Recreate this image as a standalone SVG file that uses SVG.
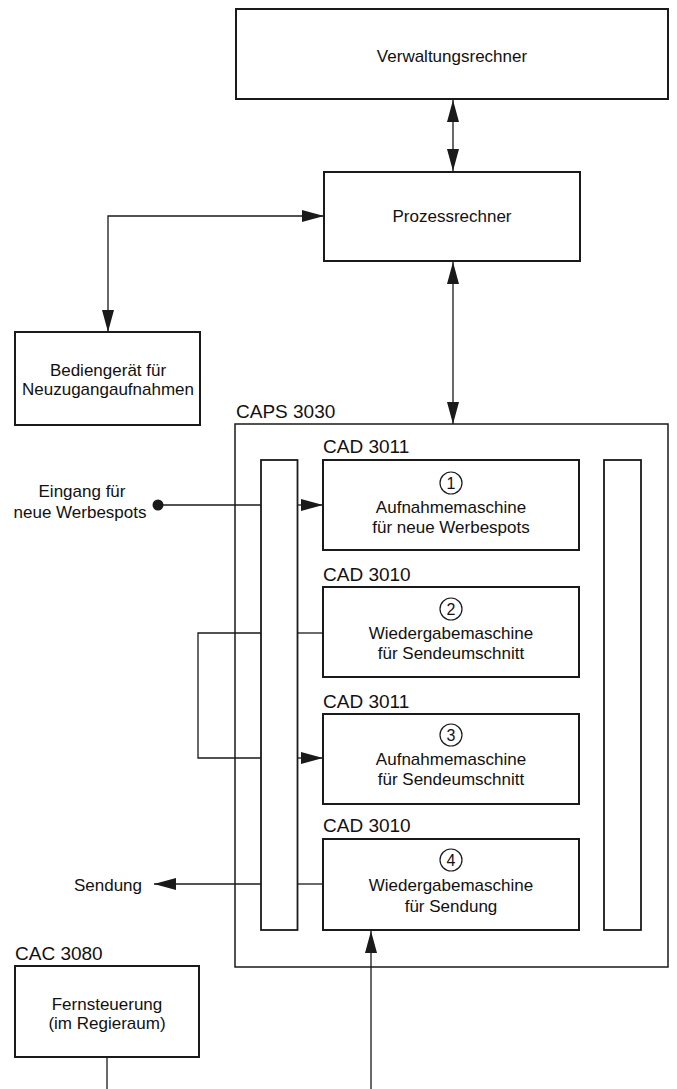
<svg xmlns="http://www.w3.org/2000/svg" width="677" height="1089" viewBox="0 0 677 1089">
<style>
.box{fill:#fff;stroke:#1a1a1a;stroke-width:2}
.bus{fill:#fff;stroke:#1a1a1a;stroke-width:1.8}
.outer{fill:none;stroke:#1a1a1a;stroke-width:1.5}
.ln{fill:none;stroke:#1a1a1a;stroke-width:1.3}
.t{font-family:"Liberation Sans",Arial,sans-serif;font-size:17px;fill:#111;text-anchor:middle}
.lab{font-family:"Liberation Sans",Arial,sans-serif;font-size:19px;fill:#111}
.num{font-family:"Liberation Sans",Arial,sans-serif;font-size:16px;fill:#111;text-anchor:middle}
.circ{fill:none;stroke:#1a1a1a;stroke-width:1.2}
</style>
<defs>
<marker id="ah" markerUnits="userSpaceOnUse" markerWidth="22" markerHeight="12" refX="22" refY="6" orient="auto-start-reverse">
<path d="M0,0 L22,6 L0,12 Z" fill="#1a1a1a"/>
</marker>
</defs>
<rect width="677" height="1089" fill="#fff"/>

<g id="connectors">
<line class="ln" x1="453" y1="100" x2="453" y2="171" marker-start="url(#ah)" marker-end="url(#ah)"/>
<line class="ln" x1="453" y1="262" x2="453" y2="424" marker-start="url(#ah)" marker-end="url(#ah)"/>
<polyline class="ln" points="108,332 108,216 324,216" marker-start="url(#ah)" marker-end="url(#ah)"/>
<circle cx="158" cy="505" r="5.5" fill="#1a1a1a"/>
<line class="ln" x1="158" y1="505" x2="261" y2="505"/>
<line class="ln" x1="297.5" y1="505" x2="323" y2="505" marker-end="url(#ah)"/>
<line class="ln" x1="297.5" y1="633" x2="323" y2="633"/>
<polyline class="ln" points="261,633 198,633 198,758 261,758"/>
<line class="ln" x1="297.5" y1="758" x2="323" y2="758" marker-end="url(#ah)"/>
<line class="ln" x1="323" y1="884" x2="297.5" y2="884"/>
<line class="ln" x1="261" y1="884" x2="154" y2="884" marker-end="url(#ah)"/>
<line class="ln" x1="371" y1="1089" x2="371" y2="931" marker-end="url(#ah)"/>
<line class="ln" x1="107" y1="1057" x2="107" y2="1089"/>
</g>

<g id="verwaltungsrechner">
<rect class="box" x="236" y="9" width="432" height="90"/>
<text class="t" x="452" y="62">Verwaltungsrechner</text>
</g>

<g id="prozessrechner">
<rect class="box" x="324" y="172" width="256" height="89"/>
<text class="t" x="452" y="222">Prozessrechner</text>
</g>

<g id="bediengeraet">
<rect class="box" x="15" y="332" width="185" height="93"/>
<text class="t" x="108" y="376">Bediengerät für</text>
<text class="t" x="108" y="395">Neuzugangaufnahmen</text>
</g>

<g id="eingang">
<text class="t" x="82" y="497">Eingang für</text>
<text class="t" x="80" y="518">neue Werbespots</text>
</g>

<g id="sendung">
<text class="t" x="108" y="891">Sendung</text>
</g>

<g id="caps3030">
<text class="lab" x="236" y="418">CAPS 3030</text>
<rect class="outer" x="235" y="424" width="433" height="543"/>
</g>

<g id="bus-left">
<rect class="bus" x="261" y="460" width="36.5" height="470"/>
</g>

<g id="bus-right">
<rect class="bus" x="604" y="460" width="37" height="470"/>
</g>

<g id="cad1">
<text class="lab" x="323" y="453">CAD 3011</text>
<rect class="box" x="323" y="460" width="256" height="90"/>
<circle class="circ" cx="451" cy="483" r="11"/>
<text class="num" x="451" y="489">1</text>
<text class="t" x="451" y="513">Aufnahmemaschine</text>
<text class="t" x="451" y="533">für neue Werbespots</text>
</g>

<g id="cad2">
<text class="lab" x="323" y="581">CAD 3010</text>
<rect class="box" x="323" y="587" width="256" height="90"/>
<circle class="circ" cx="451" cy="609" r="11"/>
<text class="num" x="451" y="615">2</text>
<text class="t" x="451" y="639">Wiedergabemaschine</text>
<text class="t" x="451" y="659">für Sendeumschnitt</text>
</g>

<g id="cad3">
<text class="lab" x="323" y="708">CAD 3011</text>
<rect class="box" x="323" y="714" width="256" height="90"/>
<circle class="circ" cx="451" cy="735" r="11"/>
<text class="num" x="451" y="741">3</text>
<text class="t" x="451" y="765">Aufnahmemaschine</text>
<text class="t" x="451" y="785">für Sendeumschnitt</text>
</g>

<g id="cad4">
<text class="lab" x="323" y="832">CAD 3010</text>
<rect class="box" x="323" y="839" width="256" height="91"/>
<circle class="circ" cx="451" cy="860" r="11"/>
<text class="num" x="451" y="866">4</text>
<text class="t" x="451" y="891">Wiedergabemaschine</text>
<text class="t" x="451" y="912">für Sendung</text>
</g>

<g id="cac3080">
<text class="lab" x="15" y="960">CAC 3080</text>
<rect class="box" x="15" y="966" width="184" height="91"/>
<text class="t" x="107" y="1010">Fernsteuerung</text>
<text class="t" x="107" y="1029">(im Regieraum)</text>
</g>
</svg>
